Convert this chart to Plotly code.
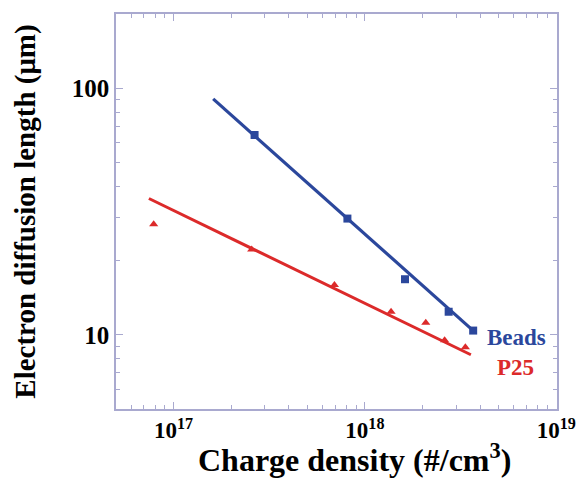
import plotly.graph_objects as go
import numpy as np

# Data
beads_x = [2.65e17, 8.1e17, 1.62e18, 2.74e18, 3.68e18]
beads_y = [64.6, 29.6, 16.8, 12.4, 10.4]
beads_fit_x = [1.61e17, 3.68e18]
beads_fit_y = [90.5, 10.4]

p25_x = [7.87e16, 2.56e17, 6.93e17, 1.37e18, 2.08e18, 2.61e18, 3.35e18]
p25_y = [28.1, 22.2, 15.9, 12.4, 11.2, 9.5, 8.9]
p25_fit_x = [7.43e16, 3.58e18]
p25_fit_y = [35.7, 8.3]

x_major = [1e17, 1e18, 1e19]
x_major_text = ["10<sup>17</sup>", "10<sup>18</sup>", "10<sup>19</sup>"]
y_major = [10, 100]
y_major_text = ["10", "100"]

BLUE = "#2b479c"
RED = "#dc2a2a"
FRAME = "#a9a9cf"
FONT = "Liberation Serif"

x_minor = [m * 10.0**e for e in (16, 17, 18) for m in range(2, 10) if 5e16 <= m * 10.0**e <= 1e19]
y_minor = [m * 10.0**e for e in (0, 1, 2) for m in range(2, 10) if 5 <= m * 10.0**e <= 200]

fig = go.Figure()
fig.add_trace(go.Scatter(x=beads_fit_x, y=beads_fit_y, mode="lines",
                         line=dict(color=BLUE, width=3.2), showlegend=False))
fig.add_trace(go.Scatter(x=p25_fit_x, y=p25_fit_y, mode="lines",
                         line=dict(color=RED, width=3), showlegend=False))
fig.add_trace(go.Scatter(x=beads_x, y=beads_y, mode="markers",
                         marker=dict(symbol="square", size=8, color=BLUE), showlegend=False))
fig.add_trace(go.Scatter(x=p25_x, y=p25_y, mode="markers",
                         marker=dict(symbol="triangle-up", size=8, color=RED), showlegend=False))

axis_common = dict(
    showline=True, linecolor=FRAME, linewidth=1.5, mirror="ticks",
    ticks="inside", ticklen=7, tickcolor=FRAME, tickwidth=1,
    showgrid=False, zeroline=False,
    tickfont=dict(family=FONT, size=23, color="black", weight="bold"),
)

fig.update_xaxes(
    type="log", range=[np.log10(5e16), 19.004],
    tickvals=x_major, ticktext=x_major_text,
    minor=dict(tickvals=x_minor, ticks="inside", ticklen=4, tickcolor=FRAME, showgrid=False),
    **axis_common,
)
fig.update_yaxes(
    type="log", range=[np.log10(5), np.log10(200)],
    tickvals=y_major, ticktext=y_major_text,
    tickfont=dict(family=FONT, size=25, color="black", weight="bold"),
    minor=dict(tickvals=y_minor, ticks="inside", ticklen=4, tickcolor=FRAME, showgrid=False),
    title=dict(text="Electron diffusion length (μm)",
               font=dict(family=FONT, size=29, color="black", weight="bold"), standoff=28),
    **{k: v for k, v in axis_common.items() if k != "tickfont"},
)

# x-axis title (placed as in the reference, slightly right of centre)
fig.add_annotation(text="Charge density (#/cm<sup>3</sup>)", xref="paper", yref="paper",
                   x=0.541, y=-0.124, xanchor="center", yanchor="middle", showarrow=False,
                   font=dict(family=FONT, size=32, color="black", weight="bold"))

fig.add_annotation(text="Beads", xref="paper", yref="paper", x=0.909, y=0.18,
                   xanchor="center", yanchor="middle",
                   showarrow=False, font=dict(family=FONT, size=23, color=BLUE, weight="bold"))
fig.add_annotation(text="P25", xref="paper", yref="paper", x=0.905, y=0.106,
                   xanchor="center", yanchor="middle",
                   showarrow=False, font=dict(family=FONT, size=23, color=RED, weight="bold"))

fig.update_layout(
    width=576, height=479,
    margin=dict(l=116, r=19, t=14, b=70, autoexpand=False),
    plot_bgcolor="white", paper_bgcolor="white",
)

fig.write_html("out.html", config={"displayModeBar": False},
               post_script="document.body.style.margin='0';")
